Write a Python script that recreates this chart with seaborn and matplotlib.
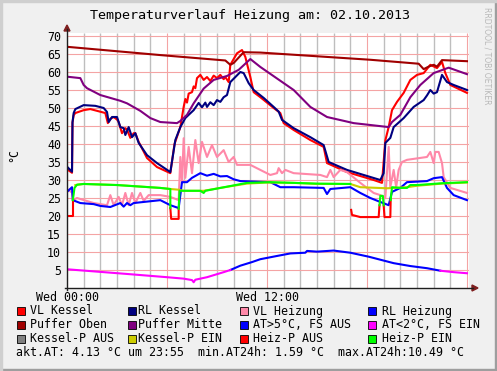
import matplotlib
matplotlib.use("Agg")
import matplotlib.pyplot as plt
import seaborn as sns
from matplotlib.lines import Line2D
from matplotlib.patches import Rectangle, Polygon

# ---------------- data (hours since 00:00, °C) ----------------
vlk_h = [0, 0.3, 0.33, 0.4, 0.5, 1.0, 1.4, 2.3, 2.45, 2.6, 2.8, 3.0, 3.1, 3.3, 3.5, 3.6, 3.8, 4.0, 4.1, 4.3, 4.8, 5.4, 6.2,
         6.45, 6.8, 7.0, 7.1, 7.2, 7.3, 7.5, 7.6, 7.7, 7.8, 8.0, 8.2, 8.4, 8.6, 8.8, 9.0, 9.2, 9.4, 9.5, 9.7, 9.8, 10.2, 10.5,
         10.7, 11.0, 11.2, 11.6, 12.4, 12.8, 13.0, 13.6, 14.6, 15.4, 15.6, 16.8, 18.4, 18.9, 19.1, 19.3, 19.5, 19.8, 20.2,
         20.6, 21.0, 21.4, 21.8, 22.2, 22.5, 22.7, 23.0, 24.0]
vlk_v = [33.0, 32.0, 46.0, 48.0, 48.6, 49.4, 49.7, 48.6, 45.8, 47.0, 47.5, 46.8, 46.1, 43.0, 44.4, 44.0, 41.7, 43.0, 43.0, 40.6,
         36.1, 33.6, 31.9, 40.0, 44.7, 50.3, 52.5, 51.5, 54.0, 54.4, 56.0, 55.5, 58.3, 59.2, 57.8, 58.6, 57.5, 59.0, 58.3, 59.2,
         58.0, 58.6, 57.2, 62.0, 65.2, 66.1, 64.2, 58.6, 54.4, 53.0, 50.0, 48.6, 45.8, 43.9, 41.1, 39.2, 34.7, 32.2, 30.0, 29.2,
         41.0, 44.7, 49.4, 51.7, 54.2, 57.8, 59.2, 59.7, 62.0, 61.1, 62.8, 59.7, 56.4, 54.2]

rlk_h = [0, 0.3, 0.33, 0.4, 0.5, 1.0, 1.7, 2.2, 2.4, 2.5, 2.7, 3.0, 3.2, 3.4, 3.5, 3.7, 3.9, 4.1, 4.3, 4.8, 5.4, 6.2, 6.5,
         6.8, 7.1, 7.3, 7.6, 7.9, 8.1, 8.3, 8.4, 8.6, 8.8, 9.0, 9.2, 9.4, 9.6, 9.8, 10.1, 10.4, 10.6, 10.9, 11.2, 11.8, 12.4,
         12.7, 12.9, 13.6, 14.6, 15.4, 15.7, 16.8, 18.8, 19.0, 19.1, 19.4, 19.6, 20.2, 20.8, 21.4, 21.6, 21.8, 22.0, 22.2,
         22.5, 22.8, 23.2, 24.0]
rlk_v = [33.7, 32.3, 46.0, 48.6, 49.7, 50.8, 50.6, 50.0, 48.9, 46.1, 47.5, 47.5, 44.7, 44.4, 42.5, 44.7, 41.9, 43.0, 40.3,
         36.9, 34.7, 32.2, 41.1, 44.7, 47.2, 48.1, 49.4, 51.4, 50.2, 51.5, 50.3, 51.6, 50.8, 52.2, 51.7, 53.0, 53.6, 57.2, 58.6,
         60.0, 59.7, 56.9, 55.0, 52.8, 50.3, 49.0, 46.7, 44.4, 41.9, 39.7, 35.0, 32.8, 30.0, 31.9, 40.3, 41.7, 44.7, 47.2,
         50.3, 52.2, 53.5, 55.0, 54.0, 54.4, 59.2, 57.2, 56.4, 55.0]

vlh_h = [0, 0.3, 0.35, 0.6, 1.6, 2.4, 2.6, 2.8, 3.1, 3.3, 3.5, 3.7, 3.9, 4.1, 4.4, 4.6, 4.9, 5.6, 6.2, 6.7, 6.8, 6.9, 7.0,
         7.1, 7.3, 7.5, 7.7, 7.9, 8.1, 8.4, 8.7, 9.0, 9.4, 9.7, 10.0, 10.2, 11.0, 12.2, 12.6, 12.7, 12.9, 13.1, 13.6, 15.2,
         15.6, 15.8, 16.0, 16.4, 16.8, 17.6, 18.4, 18.8, 19.1, 19.3, 19.4, 19.6, 19.75, 19.9, 20.1, 20.4, 21.6, 21.8, 22.0,
         22.1, 22.3, 22.5, 22.6, 23.0, 24.0]
vlh_v = [27.5, 26.5, 24.4, 25.0, 23.6, 23.0, 25.8, 23.0, 25.3, 23.0, 26.4, 23.0, 26.4, 23.6, 26.4, 24.2, 25.8, 25.8, 25.3,
         24.4, 36.4, 29.2, 41.6, 30.6, 39.2, 31.9, 41.1, 34.7, 40.6, 36.4, 39.7, 36.4, 38.3, 35.0, 36.4, 34.2, 34.2, 31.4,
         31.9, 33.3, 31.9, 32.8, 31.9, 31.4, 30.8, 32.8, 30.8, 32.8, 32.2, 29.2, 26.4, 25.8, 25.0, 39.2, 28.0, 32.8, 28.0,
         32.8, 35.0, 35.6, 36.4, 37.8, 34.7, 37.8, 37.8, 34.7, 30.8, 27.8, 26.4]

rlh_h = [0, 0.3, 0.35, 0.8, 1.6, 2.0, 2.6, 3.2, 3.4, 3.6, 3.8, 4.0, 5.6, 6.2, 6.7, 6.9, 7.2, 7.5, 8.0, 8.4, 8.8, 9.2, 9.6,
         10.0, 10.4, 12.2, 12.8, 13.6, 15.4, 15.6, 15.8, 17.0, 17.6, 18.2, 18.8, 19.3, 19.5, 20.0, 20.4, 21.6, 22.0, 22.5,
         22.8, 23.2, 24.0]
rlh_v = [26.7, 28.0, 24.4, 23.6, 23.3, 22.8, 22.5, 23.6, 22.6, 23.6, 23.0, 23.6, 24.4, 23.0, 22.2, 29.4, 29.4, 30.6, 31.9,
         31.2, 31.7, 31.0, 31.1, 30.2, 29.7, 29.4, 28.0, 28.0, 27.8, 26.1, 27.5, 28.0, 26.4, 25.0, 23.9, 23.0, 26.7, 27.8,
         29.4, 29.7, 30.5, 30.8, 27.8, 25.8, 24.4]

po_h = [0, 5.6, 9.5, 9.8, 10.0, 10.6, 11.6, 18.2, 21.1, 21.4, 21.7, 22.0, 22.2, 22.5, 24.0]
po_v = [67.0, 64.7, 63.2, 62.0, 62.5, 65.5, 65.4, 63.4, 62.3, 60.8, 61.5, 62.0, 61.5, 63.3, 63.0]

pm_h = [0, 0.8, 1.0, 1.2, 2.0, 3.2, 3.6, 4.4, 5.0, 5.6, 6.6, 6.8, 7.2, 7.6, 8.2, 8.8, 9.6, 10.3, 11.0, 11.6, 13.6, 14.6,
        15.6, 17.2, 19.3, 19.5, 20.0, 20.6, 21.2, 22.0, 22.9, 24.0]
pm_v = [58.7, 58.3, 56.4, 55.5, 53.6, 52.0, 51.3, 49.2, 47.2, 46.1, 45.8, 46.4, 48.1, 51.3, 55.4, 57.8, 58.9, 60.6, 63.6,
        61.4, 55.0, 50.3, 47.5, 45.8, 44.7, 46.1, 48.1, 53.0, 56.4, 59.7, 61.2, 59.4]

# outside temperature: low (magenta) / high (blue) segments
at_lo1_h = [0, 3.6, 6.0, 7.0, 7.5, 7.6, 7.7, 8.4, 9.4, 9.8]
at_lo1_v = [5.2, 3.9, 3.0, 2.6, 2.2, 1.6, 2.3, 3.0, 4.4, 5.0]
at_hi_h = [9.8, 10.4, 11.1, 11.6, 12.6, 13.4, 14.3, 14.4, 15.0, 16.0, 17.0, 18.1, 19.6, 20.6, 21.6, 22.4]
at_hi_v = [5.0, 6.2, 7.2, 8.0, 8.9, 9.6, 9.8, 10.3, 10.1, 10.4, 9.8, 8.7, 6.9, 6.1, 5.5, 4.8]
at_lo2_h = [22.4, 23.2, 24.0]
at_lo2_v = [4.8, 4.4, 4.1]

# Kessel pump (on)
kp_h = [0.5, 1.0, 3.0, 5.6, 6.2, 6.7, 7.0, 8.2, 9.2, 10.8, 12.0, 13.6, 15.0, 17.0, 17.6, 19.2, 20.4, 21.0, 22.5, 24.0]
kp_v = [28.6, 28.9, 28.6, 27.8, 27.5, 27.3, 27.0, 27.0, 27.8, 29.0, 29.3, 29.2, 28.9, 28.9, 28.0, 27.7, 28.0, 28.4, 29.0, 29.3]

# Heiz pump: off (red) / on (green) segments
hp_off = [([0, 0.35, 0.35], [20.0, 20.0, 24.4]),
          ([6.2, 6.25, 6.7, 6.7], [22.2, 19.2, 19.2, 22.0]),
          ([17.05, 17.1, 17.6, 18.7, 18.75], [21.7, 20.3, 19.7, 19.7, 23.0]),
          ([19.0, 19.05, 19.4, 19.42], [23.0, 19.7, 19.7, 24.4])]
hp_on = [([0.35, 0.45, 0.6, 1.0, 3.0, 5.6, 6.2, 6.2], [24.4, 27.8, 28.7, 28.9, 28.6, 27.8, 27.5, 22.2]),
         ([6.7, 6.75, 8.0, 8.2, 8.3, 9.2, 10.8, 12.2, 13.6, 15.0, 17.0],
          [22.0, 27.0, 27.0, 26.4, 27.0, 27.8, 29.2, 29.4, 29.2, 29.0, 28.9]),
         ([18.75, 18.8, 18.95, 19.0], [23.0, 25.6, 25.6, 23.0]),
         ([19.42, 19.5, 20.0, 20.4, 20.6, 21.0, 22.5, 24.0], [24.4, 28.0, 27.8, 27.8, 28.6, 28.6, 29.1, 29.4])]

legend_labels = ["VL Kessel", "RL Kessel", "VL Heizung", "RL Heizung",
                 "Puffer Oben", "Puffer Mitte", "AT>5°C, FS AUS", "AT<2°C, FS EIN",
                 "Kessel-P AUS", "Kessel-P EIN", "Heiz-P AUS", "Heiz-P EIN"]
legend_colors = ["#FF0000", "#000080", "#FF88A8", "#0000FF",
                 "#A00000", "#800080", "#0000FF", "#FF00FF",
                 "#808080", "#CCCC00", "#FF0000", "#00FF00"]
title = "Temperaturverlauf Heizung am: 02.10.2013"
summary = "akt.AT: 4.13 °C um 23:55  min.AT24h: 1.59 °C  max.AT24h:10.49 °C"
y_ticks = list(range(0, 71, 5))
x_major = [0, 6, 12, 18, 24]
x_major_labels = ["Wed 00:00", "", "Wed 12:00", "", ""]
x_minor = [h for h in range(1, 25) if h % 6 != 0]

# ---------------- figure ----------------
W, H = 497, 371
MONO = "DejaVu Sans Mono"
fig = plt.figure(figsize=(W / 100, H / 100), dpi=100)
fig.patch.set_facecolor("#F0F0F0")


def fx(x):
    return x / W


def fy(y):
    return 1 - y / H


X0, X1, Y0, Y1 = 67, 469, 33, 288
pxh = 200 / 12.0
pxv = 3.6
ymax = (Y1 - Y0) / pxv

ax = fig.add_axes([fx(X0), fy(Y1), (X1 - X0) / W, (Y1 - Y0) / H])
ax.set_facecolor("white")
ax.set_xlim(0, (X1 - X0) / pxh)
ax.set_ylim(0, ymax)

# grid: minor grey (hourly), major red
mred = "#F4A4A4"
for h in x_minor:
    ax.plot([h, h], [0, ymax], color="#BEBEBE", lw=1.0, zorder=1.0, solid_capstyle="butt")
ax.vlines(x_major, 0, ymax, colors=mred, linewidths=0.8, zorder=1.1)
ax.hlines(y_ticks[1:], 0, 25, colors=mred, linewidths=0.8, zorder=1.1)

LW = 1.5


def draw(h, v, c):
    sns.lineplot(x=h, y=v, ax=ax, color=c, lw=LW, estimator=None, sort=False, legend=False, zorder=2)


draw(vlk_h, vlk_v, legend_colors[0])
draw(rlk_h, rlk_v, legend_colors[1])
draw(vlh_h, vlh_v, legend_colors[2])
draw(rlh_h, rlh_v, legend_colors[3])
draw(po_h, po_v, legend_colors[4])
draw(pm_h, pm_v, legend_colors[5])
draw(at_hi_h, at_hi_v, legend_colors[6])
draw(at_lo1_h, at_lo1_v, legend_colors[7])
draw(at_lo2_h, at_lo2_v, legend_colors[7])
draw(kp_h, kp_v, legend_colors[9])
for h, v in hp_off:
    draw(h, v, legend_colors[10])
for h, v in hp_on:
    draw(h, v, legend_colors[11])

ax.set_xlim(0, (X1 - X0) / pxh)
ax.set_ylim(0, ymax)
ax.set_xticks(x_major)
ax.set_xticklabels(x_major_labels)
ax.set_yticks(y_ticks)
ax.set_yticklabels([""] + [str(t) for t in y_ticks[1:]])
ax.grid(False)
ax.tick_params(which="both", length=0)
ax.tick_params(axis="y", pad=4.3, labelsize=8.4)
ax.tick_params(axis="x", pad=2.5, labelsize=8.4)
for lab in ax.get_xticklabels() + ax.get_yticklabels():
    lab.set_fontfamily(MONO)
for s in ax.spines.values():
    s.set_visible(False)
ax.set_xlabel("")
ax.set_ylabel("")

# axes lines with arrows
fig.add_artist(Line2D([fx(X0), fx(X0)], [fy(Y1 + 2), fy(29)], color="#1F1F1F", lw=1.0))
fig.add_artist(Line2D([fx(X0 - 2), fx(473)], [fy(Y1), fy(Y1)], color="#1F1F1F", lw=1.0))
fig.add_artist(Polygon([[fx(64), fy(31)], [fx(70), fy(31)], [fx(67), fy(25)]], closed=True,
                       color="#7F1F1F", transform=fig.transFigure))
fig.add_artist(Polygon([[fx(472), fy(285)], [fx(472), fy(291)], [fx(478), fy(288)]], closed=True,
                       color="#7F1F1F", transform=fig.transFigure))

# texts
fig.text(fx(249.5), fy(16), title, ha="center", va="center", fontsize=9.6, family=MONO)
fig.text(fx(14), fy(155), "°C", rotation=90, ha="center", va="center", fontsize=8.4, family=MONO)
fig.text(fx(487), fy(7), "RRDTOOL / TOBI OETIKER", rotation=270, ha="center", va="top",
         fontsize=5.5, color="#B8B8B8", family="DejaVu Sans")

# legend
col_sq = [17, 128, 240, 368]
col_tx = [30, 138, 253, 382]
row_y = [311, 325, 339]
for i, (lab, c) in enumerate(zip(legend_labels, legend_colors)):
    r, cidx = divmod(i, 4)
    y = row_y[r]
    fig.add_artist(Rectangle((fx(col_sq[cidx]), fy(y + 4)), 8 / W, 8 / H, facecolor=c,
                             edgecolor="black", lw=0.6, transform=fig.transFigure))
    fig.text(fx(col_tx[cidx]), fy(y), lab, ha="left", va="center", fontsize=8.4, family=MONO)
fig.text(fx(16), fy(353), summary, ha="left", va="center", fontsize=8.4, family=MONO)

# frame shading
fig.add_artist(Rectangle((0, 0), 1, 2 / H, color="#9E9E9E", transform=fig.transFigure))
fig.add_artist(Rectangle((1 - 2 / W, 0), 2 / W, 1, color="#9E9E9E", transform=fig.transFigure))
fig.add_artist(Rectangle((0, 1 - 2 / H), 1, 2 / H, color="#CFCFCF", transform=fig.transFigure))
fig.add_artist(Rectangle((0, 0), 2 / W, 1, color="#CFCFCF", transform=fig.transFigure))

fig.savefig("out.png", dpi=100, facecolor=fig.get_facecolor())
